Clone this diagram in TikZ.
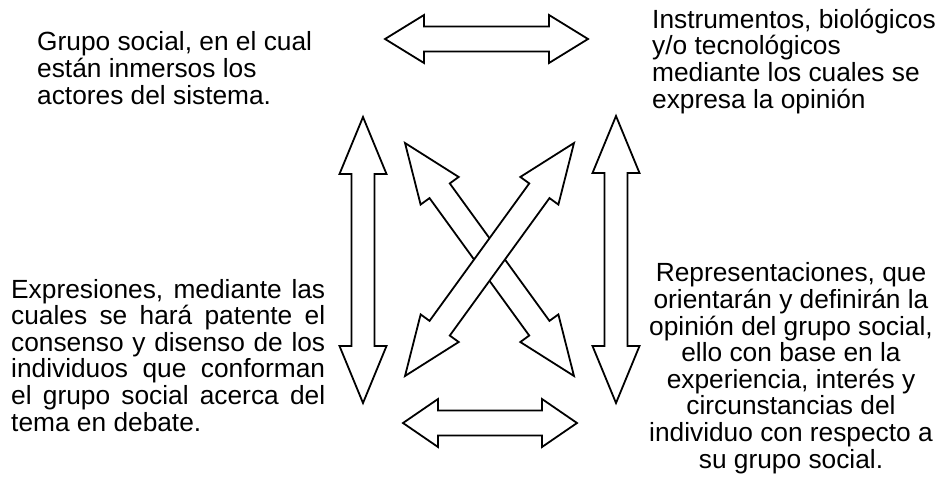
\documentclass[tikz,border=0pt]{standalone}
\usepackage{fontspec}
\setmainfont{Liberation Sans}
\usetikzlibrary{calc}
\tikzstyle{texto} = [inner sep=0pt, font=\fontsize{26.3}{26.6}\selectfont]
\tikzstyle{flecha} = [draw, fill=white, line width=1.8pt, line join=miter]
\newcommand{\linea}[1]{\makebox[314pt][s]{#1}}
\newcommand{\dobleflecha}[5]{%
  \path[flecha] let \p1=(#1), \p2=(#2), \n1={atan2(\y2-\y1,\x2-\x1)}, \n2={veclen(\x2-\x1,\y2-\y1)} in
    [shift={(\p1)}, rotate=\n1] (0pt,0pt) -- (#5pt,#4pt) -- (#5pt,#3pt) -- ({\n2-#5pt},#3pt)
    -- ({\n2-#5pt},#4pt) -- (\n2,0pt) -- ({\n2-#5pt},-#4pt) -- ({\n2-#5pt},-#3pt)
    -- (#5pt,-#3pt) -- (#5pt,-#4pt) -- cycle;}

\begin{document}
\begin{tikzpicture}[x=1pt, y=-1pt]
  \useasboundingbox (0,0) rectangle (941,490);
  \node[texto, anchor=base west, align=left] (grupo) at (37,104)
    {Grupo social, en el cual\\están inmersos los\\actores del sistema.};
  \node[texto, anchor=base west, align=left] (instrumentos) at (652,108)
    {Instrumentos, biológicos\\y/o tecnológicos\\mediante los cuales se\\expresa la opinión};
  \node[texto, anchor=base west, align=left] (expresiones) at (11,431)
    {\linea{Expresiones, mediante las}\\\linea{cuales se hará patente el}\\
     \linea{consenso y disenso de los}\\\linea{individuos que conforman}\\
     \linea{el grupo social acerca del}\\tema en debate.};
  \node[texto, anchor=base, align=center] (representaciones) at (791,468)
    {Representaciones, que\\orientarán y definirán la\\opinión del grupo social,\\ello con base en la\\
     experiencia, interés y\\circunstancias del\\individuo con respecto a\\su grupo social.};

  \coordinate (arribaL) at (385,39);
  \coordinate (arribaR) at (588,39);
  \coordinate (abajoL) at (403,423);
  \coordinate (abajoR) at (577,423);
  \coordinate (izqT) at (363,117);
  \coordinate (izqB) at (363,403);
  \coordinate (derT) at (616,116);
  \coordinate (derB) at (616,403);
  \coordinate (diagA1) at (405,143);
  \coordinate (diagA2) at (574,376);
  \coordinate (diagB1) at (574,143);
  \coordinate (diagB2) at (405,376);

  \dobleflecha{arribaL}{arribaR}{12.5}{24}{39}
  \dobleflecha{abajoL}{abajoR}{12.5}{24}{35}
  \dobleflecha{izqT}{izqB}{11.5}{23.5}{57}
  \dobleflecha{derT}{derB}{11.5}{23.5}{57}
  \dobleflecha{diagA1}{diagA2}{12.5}{23.5}{59}
  \dobleflecha{diagB1}{diagB2}{12.5}{23.5}{59}
\end{tikzpicture}
\end{document}
